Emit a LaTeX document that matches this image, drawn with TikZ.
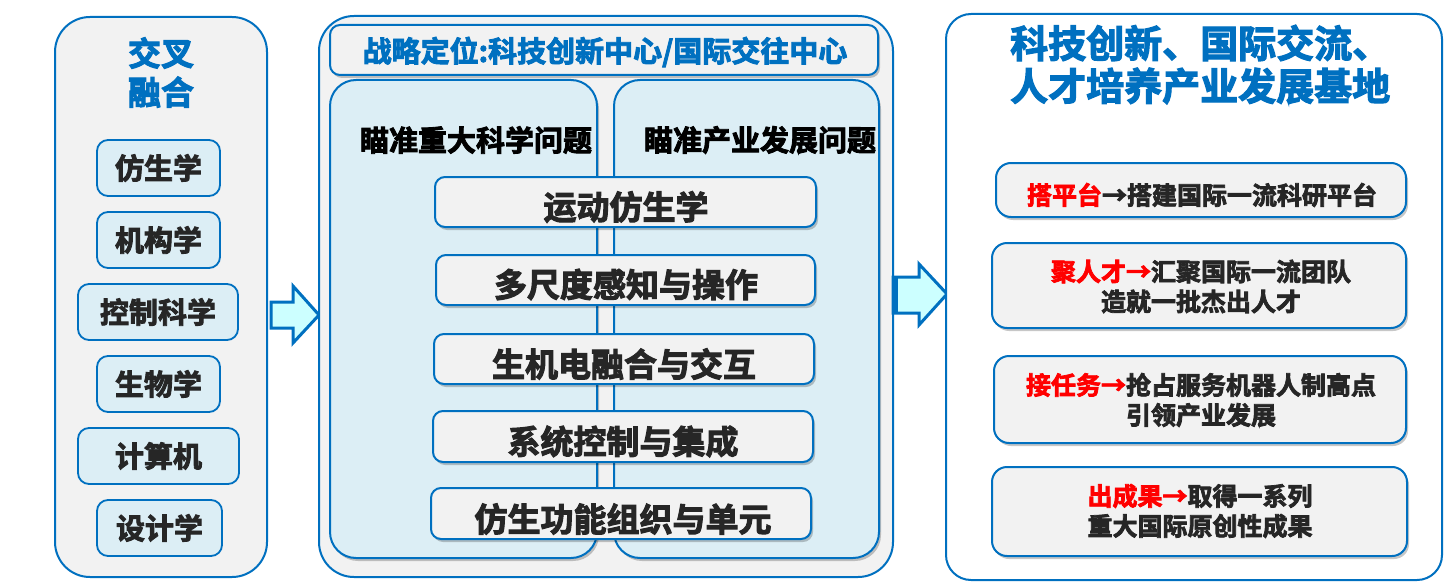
\documentclass[tikz,border=0pt]{standalone}
\usepackage{fontspec}
\setmainfont{Noto Sans CJK SC}[BoldFont={Noto Sans CJK SC Bold}, BoldFeatures={FakeBold=3}]
\usetikzlibrary{shadows}
\definecolor{bblue}{RGB}{0,112,192}
\definecolor{lblue}{RGB}{220,238,245}
\definecolor{lgray}{RGB}{242,242,242}
\definecolor{dtxt}{RGB}{38,38,38}
\definecolor{acyan}{RGB}{204,255,255}
\definecolor{rred}{RGB}{255,0,0}
\newcommand{\fsz}[2]{\fontsize{#1}{#2}\selectfont}
\tikzset{
  softshadow/.style={drop shadow={shadow xshift=2pt,shadow yshift=-3pt,opacity=0.22,fill=black}},
  panel/.style={draw=bblue, line width=2pt, fill=lgray, rounded corners=35pt, inner sep=0pt},
  subpanel/.style={draw=bblue, line width=2pt, fill=lblue, rounded corners=26pt, inner sep=0pt, softshadow},
  topbar/.style={draw=bblue, line width=2pt, fill=lgray, rounded corners=10pt, inner sep=0pt, softshadow},
  smallbox/.style={draw=bblue, line width=1.8pt, fill=lblue, rounded corners=11pt, minimum height=56pt, inner sep=0pt, font=\bfseries\fsz{29}{34}, text=dtxt},
  midbox/.style={draw=bblue, line width=2pt, fill=lgray, rounded corners=10pt, minimum height=50pt, inner sep=0pt, softshadow},
  midtxt/.style={inner sep=0pt, font=\bfseries\fsz{33}{38}, text=dtxt},
  headtxt/.style={inner sep=0pt, font=\bfseries\fsz{29}{34}, text=black},
  rbox/.style={draw=bblue, line width=2pt, fill=lgray, rounded corners=15pt, inner sep=0pt, softshadow},
  rtxt/.style={inner sep=0pt, font=\bfseries\fsz{25}{30}, text=dtxt, align=center},
  bluetitle/.style={inner sep=0pt, text=bblue},
  bigarrow/.style={draw=bblue, line width=3pt, fill=acyan, line join=miter}
}
\begin{document}
\begin{tikzpicture}[x=1pt,y=-1pt]
\useasboundingbox (0,0) rectangle (1450,583);
\fill[white] (0,0) rectangle (1450,583);

% ---------------- left panel ----------------
\node[panel, minimum width=212pt, minimum height=560pt] (L) at (161,297) {};
\node[bluetitle, font=\bfseries\fsz{33}{39}, align=center] (Lt) at (161,72.5) {交叉\\融合};
\node[smallbox, minimum width=123pt] (l1) at (158.5,168) {仿生学};
\node[smallbox, minimum width=123pt] (l2) at (158.5,240) {机构学};
\node[smallbox, minimum width=160pt] (l3) at (158,312) {控制科学};
\node[smallbox, minimum width=123pt] (l4) at (158.5,384) {生物学};
\node[smallbox, minimum width=161pt] (l5) at (158.5,456) {计算机};
\node[smallbox, minimum width=125pt] (l6) at (159.5,528) {设计学};

% ---------------- arrow 1 ----------------
\draw[bigarrow] (271,302) -- (293,302) -- (293,286) -- (319,315) -- (293,343) -- (293,328) -- (271,328) -- cycle;

% ---------------- middle panel ----------------
\node[panel, minimum width=574pt, minimum height=561pt] (M) at (606,296.5) {};
\node[subpanel, minimum width=267pt, minimum height=478pt] (ML) at (463.5,319) {};
\node[subpanel, minimum width=265pt, minimum height=478pt] (MR) at (746.5,319) {};
\node[topbar, minimum width=548pt, minimum height=50pt] (MT) at (604,50) {};
\node[bluetitle, font=\bfseries\fsz{29}{32}] (MTt) at (605,52) {战略定位:科技创新中心/国际交往中心};
\node[headtxt] (h1) at (476,140) {瞄准重大科学问题};
\node[headtxt] (h2) at (760,140) {瞄准产业发展问题};

\node[midbox, minimum width=381pt] (m1) at (625.5,202) {};
\node[midtxt] (m1t) at (626,207) {运动仿生学};
\node[midbox, minimum width=379pt] (m2) at (625.5,280) {};
\node[midtxt] (m2t) at (626,284.5) {多尺度感知与操作};
\node[midbox, minimum width=380pt] (m3) at (624,359) {};
\node[midtxt] (m3t) at (624,364) {生机电融合与交互};
\node[midbox, minimum width=380pt, minimum height=51pt] (m4) at (623,436.5) {};
\node[midtxt] (m4t) at (623,441.5) {系统控制与集成};
\node[midbox, minimum width=380pt, minimum height=51pt] (m5) at (621,513.5) {};
\node[midtxt] (m5t) at (623,519) {仿生功能组织与单元};

% ---------------- arrow 2 ----------------
\draw[bigarrow] (893,277) -- (919,277) -- (919,264) -- (947,294) -- (919,325) -- (919,313) -- (893,313) -- cycle;
\draw[bblue, line width=5pt] (895,277) -- (895,313);

% ---------------- right panel ----------------
\node[draw=bblue, line width=2pt, fill=white, rounded corners=25pt, inner sep=0pt, minimum width=496pt, minimum height=566pt] (R) at (1194,297) {};
\node[bluetitle, font=\bfseries\fsz{38}{43}, anchor=west] (Rt1) at (1010,43) {科技创新、国际交流、};
\node[bluetitle, font=\bfseries\fsz{38}{43}, anchor=west] (Rt2) at (1010,86) {人才培养产业发展基地};

\node[rbox, minimum width=410pt, minimum height=54pt] (r1) at (1201,190) {};
\node[rtxt] (r1t) at (1202,195) {\textcolor{rred}{搭平台}→搭建国际一流科研平台};
\node[rbox, minimum width=414pt, minimum height=85pt] (r2) at (1199,285.5) {};
\node[rtxt] (r2t) at (1201,286.5) {\textcolor{rred}{聚人才→}汇聚国际一流团队\\造就一批杰出人才};
\node[rbox, minimum width=412pt, minimum height=87pt] (r3) at (1200,399.5) {};
\node[rtxt] (r3t) at (1201,400) {\textcolor{rred}{接任务→}抢占服务机器人制高点\\引领产业发展};
\node[rbox, minimum width=415pt, minimum height=89pt] (r4) at (1199.5,511.5) {};
\node[rtxt] (r4t) at (1200,511) {\textcolor{rred}{出成果→}取得一系列\\重大国际原创性成果};
\end{tikzpicture}
\end{document}
